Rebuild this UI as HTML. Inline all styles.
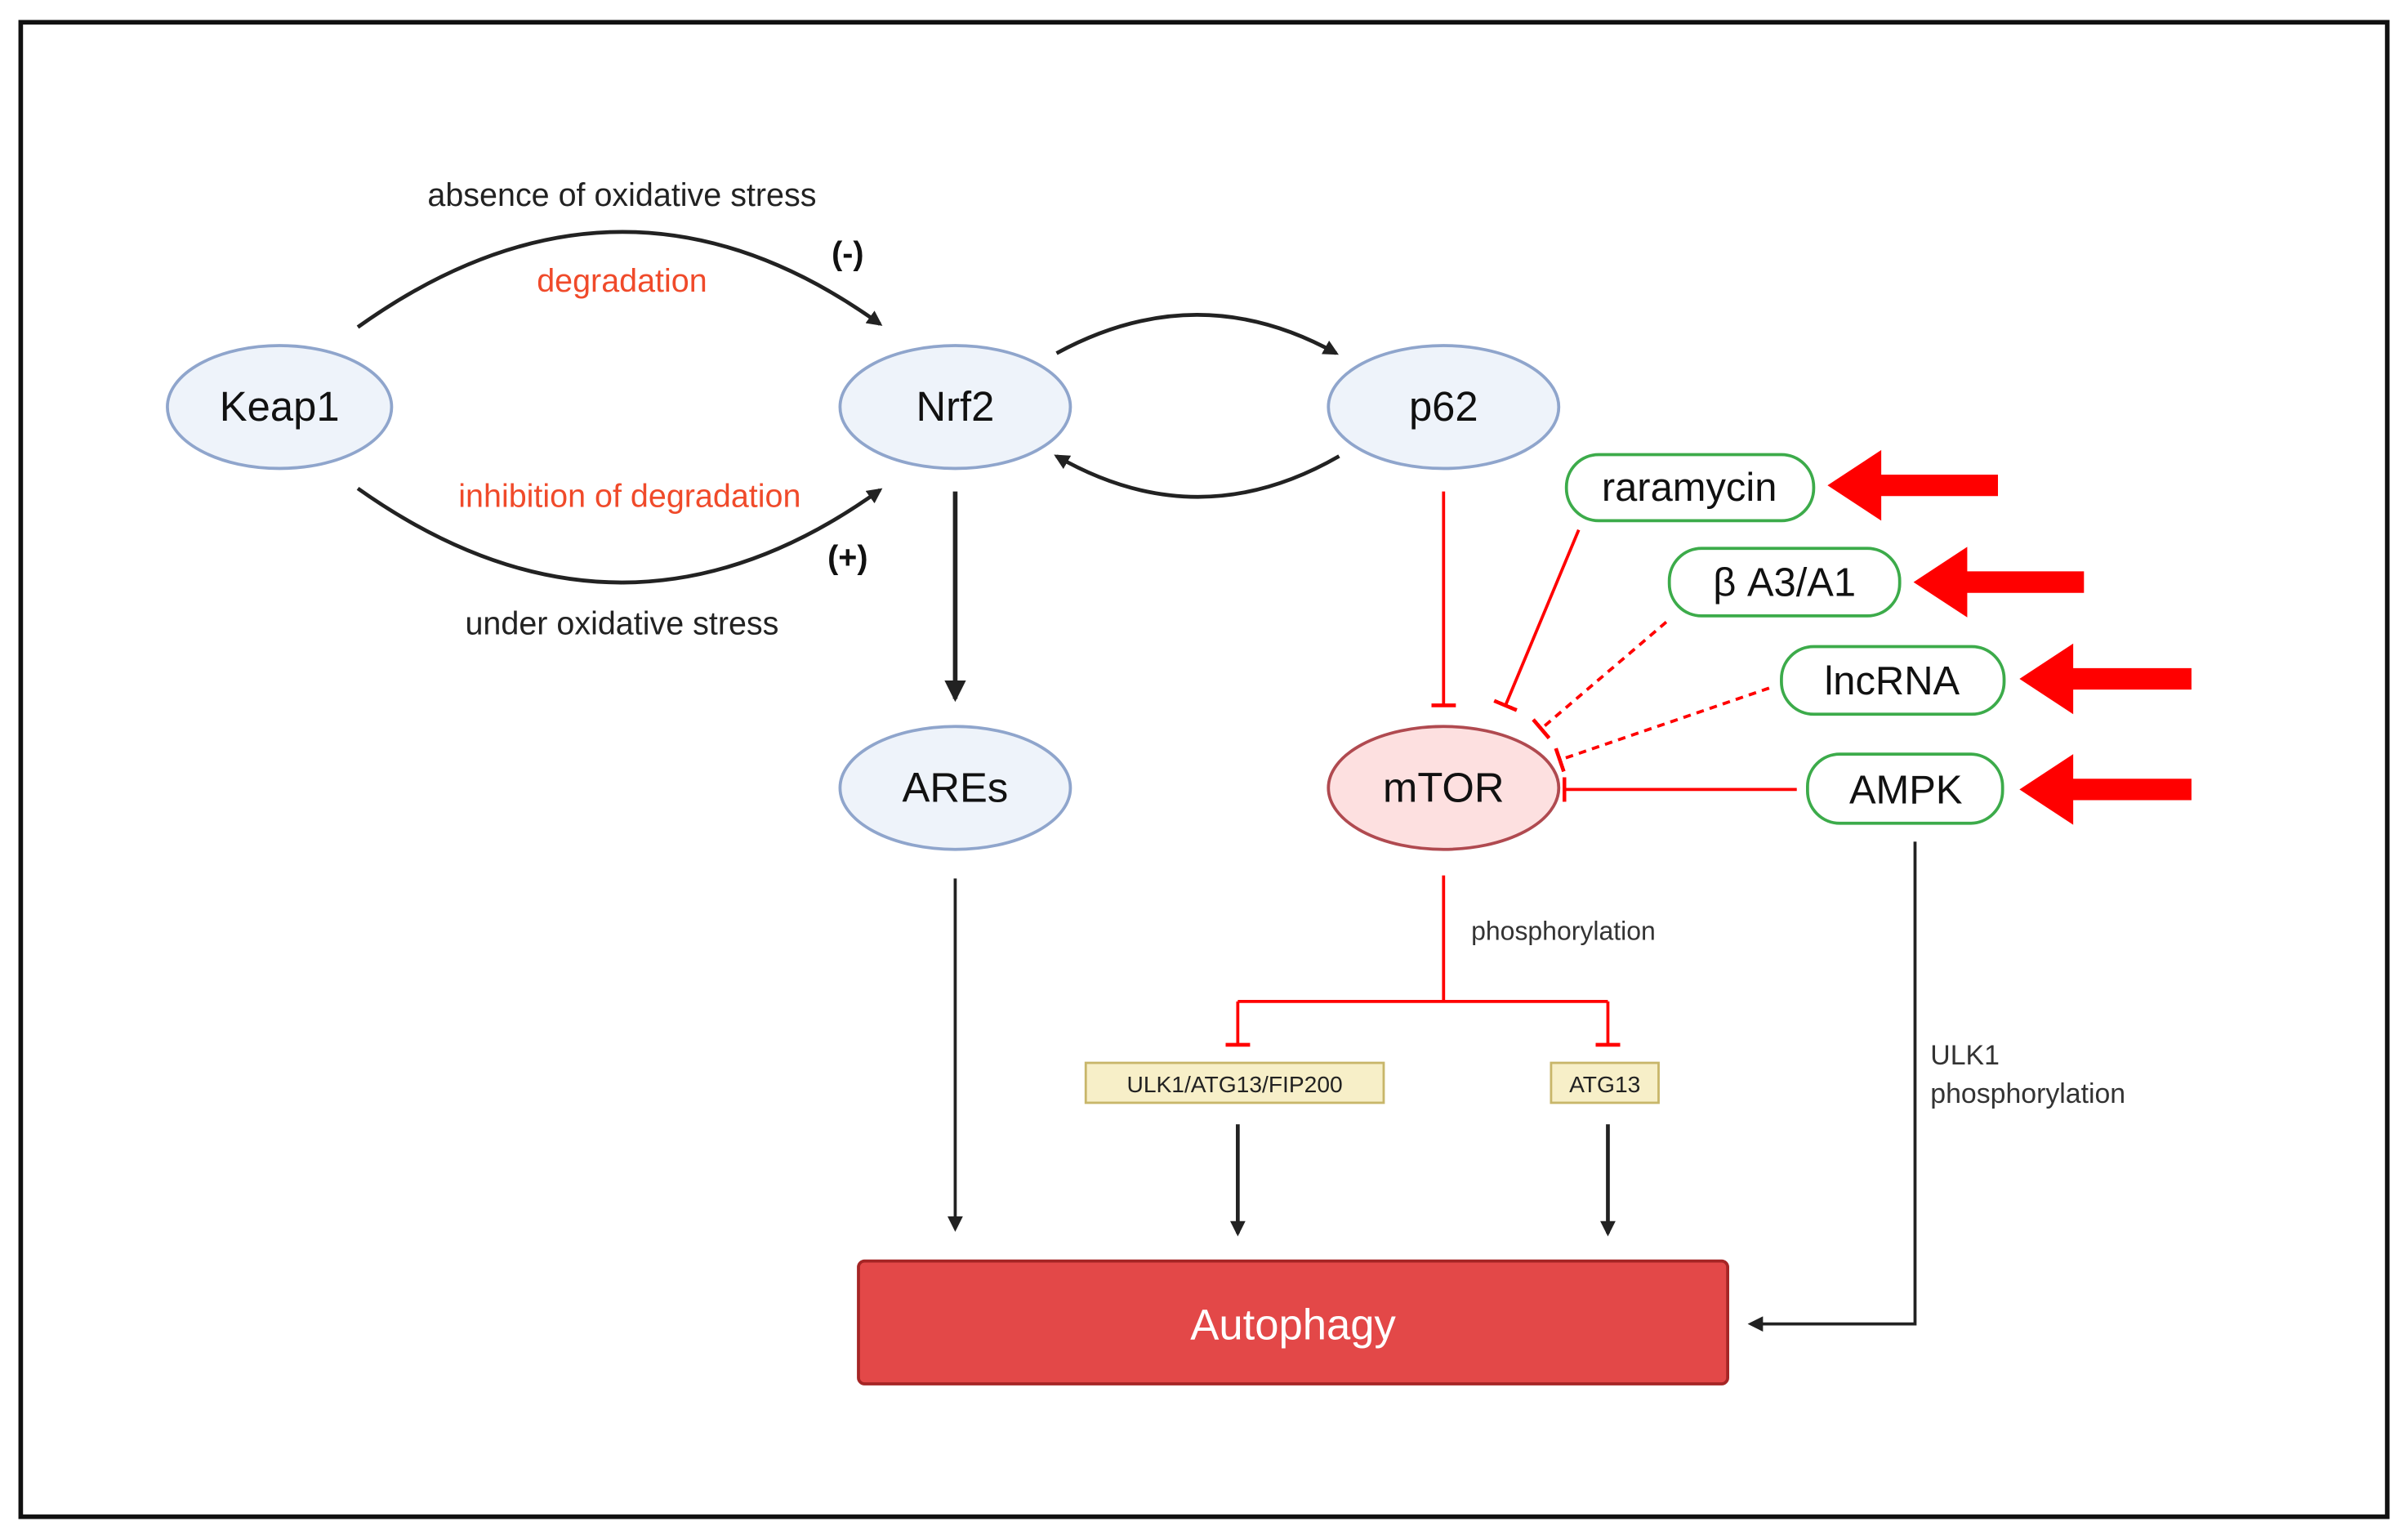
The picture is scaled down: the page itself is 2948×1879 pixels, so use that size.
<!DOCTYPE html>
<html><head><meta charset="utf-8"><style>
html,body{margin:0;padding:0;background:#fff;}
svg{display:block;}
text{font-family:"Liberation Sans",sans-serif;}
</style></head><body>
<svg width="2948" height="1879" viewBox="0 0 1568 999.4" preserveAspectRatio="none" xmlns="http://www.w3.org/2000/svg">
<defs>
<marker id="ab" markerWidth="10" markerHeight="10" refX="8" refY="5" orient="auto" markerUnits="userSpaceOnUse"><path d="M0,0 L10,5 L0,10 Z" fill="#222"/></marker>
<marker id="ab2" markerWidth="14" markerHeight="14" refX="12" refY="7" orient="auto" markerUnits="userSpaceOnUse"><path d="M0,0 L14,7 L0,14 Z" fill="#222"/></marker>
<marker id="tee" markerWidth="4" markerHeight="16" refX="2" refY="8" orient="auto" markerUnits="userSpaceOnUse"><rect x="0" y="0" width="2.5" height="16" fill="#f00"/></marker>
</defs>
<rect x="0" y="0" width="1568" height="1000" fill="#fff"/>
<rect x="13.5" y="14.5" width="1541" height="973" fill="none" stroke="#111" stroke-width="3"/>

<g fill="#eef3fa" stroke="#8fa5cc" stroke-width="2">
<ellipse cx="182" cy="265" rx="73" ry="40"/>
<ellipse cx="622" cy="265" rx="75" ry="40"/>
<ellipse cx="940" cy="265" rx="75" ry="40"/>
<ellipse cx="622" cy="513" rx="75" ry="40"/>
</g>
<ellipse cx="940" cy="513" rx="75" ry="40" fill="#fde0e0" stroke="#b04a50" stroke-width="2"/>
<g font-size="27" fill="#111" text-anchor="middle">
<text x="182" y="274">Keap1</text>
<text x="622" y="274">Nrf2</text>
<text x="940" y="274">p62</text>
<text x="622" y="522">AREs</text>
<text x="940" y="522">mTOR</text>
</g>

<g fill="none" stroke="#222" stroke-width="2.5">
<path d="M233,213 Q405,90 573,211" marker-end="url(#ab)"/>
<path d="M233,318 Q405,440 573,319" marker-end="url(#ab)"/>
<path d="M688,230 Q780,180 870,230" marker-end="url(#ab)"/>
<path d="M872,297 Q780,350 688,297" marker-end="url(#ab)"/>
<path d="M622,320 L622,455" stroke-width="3" marker-end="url(#ab2)"/>
<path d="M622,572 L622,800" stroke-width="2" marker-end="url(#ab)"/>
<path d="M806,732 L806,803" stroke-width="2.5" marker-end="url(#ab)"/>
<path d="M1047,732 L1047,803" stroke-width="2.5" marker-end="url(#ab)"/>
<path d="M1247,548 L1247,862 L1140,862" stroke-width="2" marker-end="url(#ab)"/>
</g>

<g font-size="21" text-anchor="middle">
<text x="405" y="134" fill="#222">absence of oxidative stress</text>
<text x="405" y="190" fill="#f04a2a">degradation</text>
<text x="552" y="172" fill="#111" font-weight="bold">(-)</text>
<text x="410" y="330" fill="#f04a2a">inhibition of degradation</text>
<text x="552" y="370" fill="#111" font-weight="bold">(+)</text>
<text x="405" y="413" fill="#222">under oxidative stress</text>
</g>

<g fill="none" stroke="#f00" stroke-width="2">
<path d="M940,320 L940,460" marker-end="url(#tee)"/>
<path d="M1028,345 L980,460" marker-end="url(#tee)"/>
<path d="M1085,405 L1003,475" stroke-dasharray="5,4" marker-end="url(#tee)"/>
<path d="M1152,448 L1015,495" stroke-dasharray="5,4" marker-end="url(#tee)"/>
<path d="M1170,514 L1018,514" marker-end="url(#tee)"/>
<path d="M940,570 L940,652 M806,652 L1047,652"/>
<path d="M806,652 L806,681" marker-end="url(#tee)"/>
<path d="M1047,652 L1047,681" marker-end="url(#tee)"/>
</g>

<g fill="#fff" stroke="#3cab4a" stroke-width="2">
<rect x="1020" y="296" width="161" height="43" rx="21"/>
<rect x="1087" y="357" width="150" height="44" rx="21"/>
<rect x="1160" y="421" width="145" height="44" rx="21"/>
<rect x="1177" y="491" width="127" height="45" rx="21"/>
</g>
<g font-size="26" fill="#111" text-anchor="middle">
<text x="1100" y="326">raramycin</text>
<text x="1162" y="388">β A3/A1</text>
<text x="1232" y="452">lncRNA</text>
<text x="1241" y="523">AMPK</text>
</g>

<g fill="#f00">
<path d="M1190,316 L1225,293 L1225,309 L1301,309 L1301,323 L1225,323 L1225,339 Z"/>
<path d="M1246,379 L1281,356 L1281,372 L1357,372 L1357,386 L1281,386 L1281,402 Z"/>
<path d="M1315,442 L1350,419 L1350,435 L1427,435 L1427,449 L1350,449 L1350,465 Z"/>
<path d="M1315,514 L1350,491 L1350,507 L1427,507 L1427,521 L1350,521 L1350,537 Z"/>
</g>

<text x="958" y="612" font-size="17" fill="#333">phosphorylation</text>
<text x="1257" y="693" font-size="18" fill="#333">ULK1</text>
<text x="1257" y="718" font-size="18" fill="#333">phosphorylation</text>

<rect x="707" y="692" width="194" height="26" fill="#f7efc8" stroke="#c8b66a" stroke-width="1.5"/>
<rect x="1010" y="692" width="70" height="26" fill="#f7efc8" stroke="#c8b66a" stroke-width="1.5"/>
<text x="804" y="711" font-size="15" fill="#222" text-anchor="middle">ULK1/ATG13/FIP200</text>
<text x="1045" y="711" font-size="15" fill="#222" text-anchor="middle">ATG13</text>

<rect x="559" y="821" width="566" height="80" rx="4" fill="#e34848" stroke="#a52525" stroke-width="2"/>
<text x="842" y="872" font-size="28" fill="#fff" text-anchor="middle">Autophagy</text>
</svg>
</body></html>
